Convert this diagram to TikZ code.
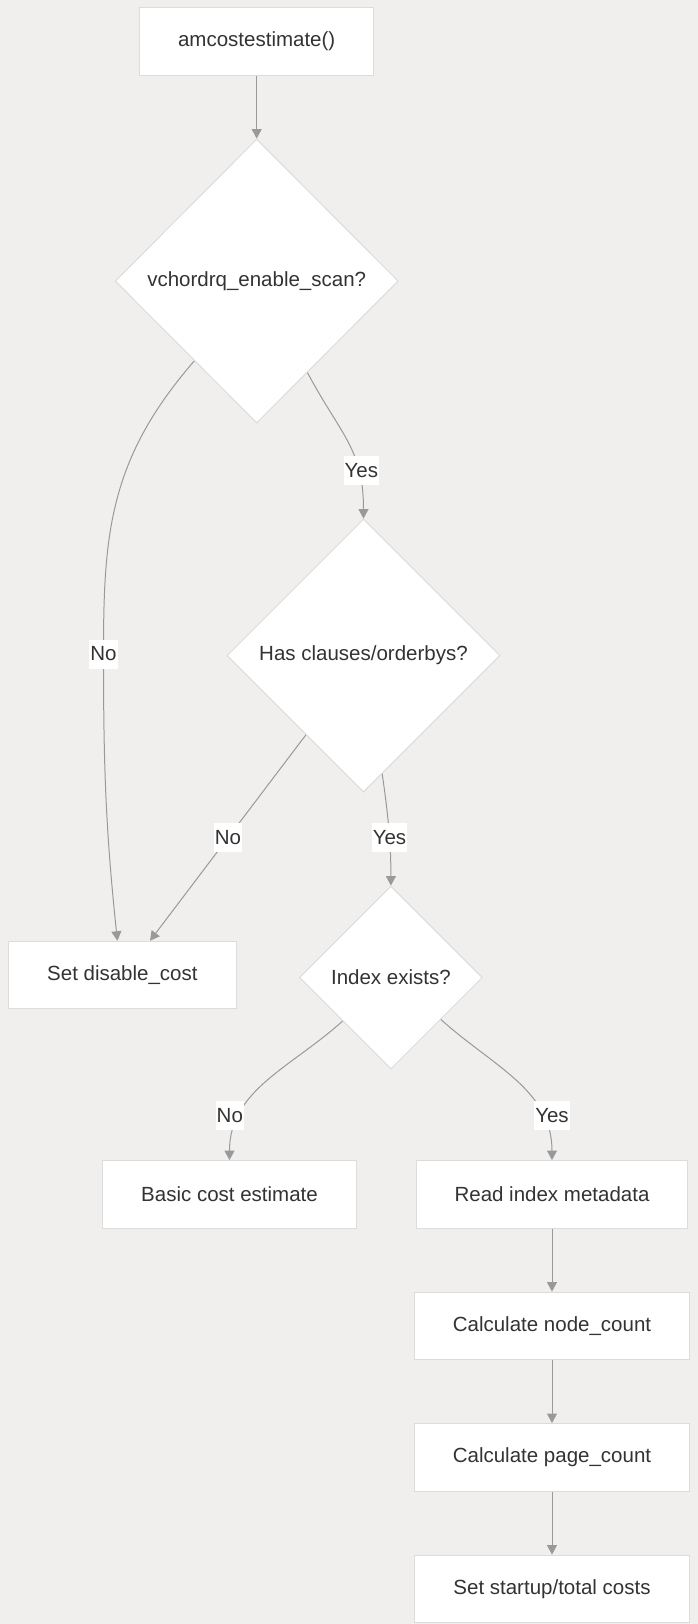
\documentclass[tikz,border=0pt]{standalone}
\usepackage{fontspec}
\setmainfont{Liberation Sans}
\usetikzlibrary{positioning, shapes.geometric, arrows.meta}

\definecolor{bgcol}{HTML}{F0EFEE}
\definecolor{edgecol}{HTML}{DCDCDC}
\definecolor{linecol}{HTML}{999999}
\definecolor{txtcol}{HTML}{333333}

\begin{document}
\begin{tikzpicture}[
    font=\fontsize{20.5}{24}\selectfont,
    block/.style={
      draw=edgecol, fill=white, text=txtcol, line width=1pt,
      inner xsep=38.5pt, inner ysep=0pt, minimum height=67.5pt
    },
    decision/.style={
      diamond, aspect=1, draw=edgecol, fill=white, text=txtcol,
      line width=1pt, inner sep=0pt
    },
    edgelabel/.style={
      fill=white, text=txtcol, inner sep=1pt, minimum height=29pt
    },
    flow/.style={
      draw=linecol, line width=1pt, -{Triangle[length=9.5pt,width=10pt]}
    },
  ]
    % background
    \fill [bgcol] (0,0) rectangle (698pt,-1624pt);
    \useasboundingbox (0,0) rectangle (698pt,-1624pt);

    % decisions
    \node [block] (start) at (256.7pt,-41.3pt) {amcostestimate()};
    \node [decision, minimum width=283pt, minimum height=284pt, below=63pt of start] (scanq) {vchordrq\_enable\_scan?};
    \node [decision, minimum width=273pt, minimum height=273pt, below=95pt of scanq, xshift=106.8pt] (clausesq) {Has clauses/orderbys?};
    \node [decision, minimum width=183pt, minimum height=183pt, below=93pt of clausesq, xshift=27.4pt] (indexq) {Index exists?};

    % outcomes
    \node [block] (disablecost) at (122.4pt,-975pt) {Set disable\_cost};
    \node [block] (basicest) at (229.5pt,-1194.3pt) {Basic cost estimate};
    \node [block] (readmeta) at (552pt,-1194.3pt) {Read index metadata};
    \node [block, below=63pt of readmeta] (nodecount) {Calculate node\_count};
    \node [block, below=63pt of nodecount] (pagecount) {Calculate page\_count};
    \node [block, below=63pt of pagecount] (setcosts) {Set startup/total costs};

    % bend of the long No edge
    \coordinate (nomid) at (103.5pt,-654pt);

    % connectors
    \draw [flow] (start) -- (scanq);
    \draw [flow] (scanq.-61) to[out=-62, in=90, out distance=70pt, in distance=70pt] node[edgelabel, pos=0.72, xshift=3pt] {Yes} (clausesq.north);
    \draw [flow] (scanq.-128.5) to[out=-131, in=90, out distance=130pt, in distance=120pt] (nomid) node[edgelabel] {No} to[out=-90, in=96] ([xshift=-5pt]disablecost.north);
    \draw [flow] (clausesq.-126) -- node[edgelabel] {No} ([xshift=27.6pt]disablecost.north);
    \draw [flow] (clausesq.-81.2) to[out=-82, in=90] node[edgelabel, pos=0.58] {Yes} (indexq.north);
    \draw [flow] (indexq.-138.5) to[out=-138, in=90] node[edgelabel, pos=0.75, xshift=-10pt] {No} (basicest.north);
    \draw [flow] (indexq.-40.8) to[out=-42, in=90] node[edgelabel, pos=0.75, xshift=10pt] {Yes} (readmeta.north);
    \draw [flow] (readmeta) -- (nodecount);
    \draw [flow] (nodecount) -- (pagecount);
    \draw [flow] (pagecount) -- (setcosts);

  \end{tikzpicture}
\end{document}
